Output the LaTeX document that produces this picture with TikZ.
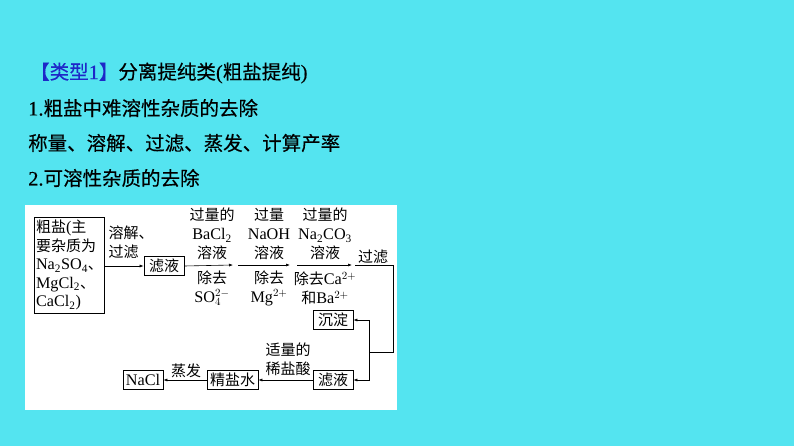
\documentclass[tikz,border=0pt]{standalone}
\usepackage{fontspec}
\setmainfont{Noto Sans CJK SC}
\newfontfamily\tnr[Scale=1.08]{Liberation Serif}
\newfontfamily\headfont[FakeBold=0.3]{Noto Sans CJK SC}
\newfontfamily\headtnr[FakeBold=0.3,Scale=1.05]{Liberation Serif}
\usetikzlibrary{arrows.meta}
\definecolor{bgcyan}{RGB}{84,228,240}
\definecolor{typeblue}{RGB}{30,40,200}
\newcommand{\en}[1]{{\tnr #1}}
\newcommand{\hen}[1]{{\headtnr #1}}
\tikzset{
  heading/.style={anchor=west, inner sep=0pt, font=\headfont\fontsize{19.5}{23}\selectfont},
  small/.style={inner sep=0pt, align=center, font=\fontsize{15}{19}\selectfont},
  box/.style={draw, line width=0.7pt, inner sep=1pt, minimum width=40pt, minimum height=19pt, font=\fontsize{15}{19}\selectfont},
  flow/.style={line width=0.6pt, -{Latex[length=4pt,width=3pt]}},
  wire/.style={line width=0.6pt}
}
\begin{document}
\begin{tikzpicture}[x=1pt,y=-1pt]
  % background and panel
  \fill[bgcyan] (0,0) rectangle (794,446);
  \useasboundingbox (0,0) rectangle (794,446);
  \fill[white] (25,205) rectangle (397,410);

  % headings
  \node[heading] (title) at (30,73) {\textcolor{typeblue}{【类型\hen{1}】}分离提纯类\hen{(}粗盐提纯\hen{)}};
  \node[heading] (line1) at (28,108) {\hen{1.}粗盐中难溶性杂质的去除};
  \node[heading] (line2) at (28,143) {称量、溶解、过滤、蒸发、计算产率};
  \node[heading] (line3) at (28,178) {\hen{2.}可溶性杂质的去除};

  % boxes
  \node[box, minimum width=67pt, minimum height=96pt, inner xsep=1.5pt, align=left, font=\fontsize{15}{18.5}\selectfont] (crude) at (69.5,265)
    {粗盐\en{(}主\\要杂质为\\\en{Na\textsubscript{2}SO\textsubscript{4}}、\\\en{MgCl\textsubscript{2}}、\\\en{CaCl\textsubscript{2})}};
  \node[box] (filt1) at (164,266) {滤液};
  \node[box] (sed) at (333,320) {沉淀};
  \node[box] (filt2) at (333,380) {滤液};
  \node[box, minimum width=51pt] (brine) at (232.5,380) {精盐水};
  \node[box] (nacl) at (143,380) {\en{NaCl}};

  % free ends on the main line
  \coordinate (e1) at (233,265);
  \coordinate (s2) at (238,265);
  \coordinate (e2) at (290,265);
  \coordinate (s3) at (297,265);
  \coordinate (e3) at (352,265);
  \coordinate (s4) at (355,265);
  \coordinate (turn) at (393,265);
  \coordinate (split) at (369,352);

  % labels
  \node[small, align=left] (dissolve) at (131,242) {溶解、\\过滤};
  \node[small] (add1) at (212,234) {过量的\\\en{BaCl\textsubscript{2}}\\溶液};
  \node[small] (rem1) at (212,288) {除去\\\en{SO}$_4^{2-}$};
  \node[small] (add2) at (269,234) {过量\\\en{NaOH}\\溶液};
  \node[small] (rem2) at (269,288) {除去\\\en{Mg}$^{2+}$};
  \node[small] (add3) at (325,234) {过量的\\\en{Na\textsubscript{2}CO\textsubscript{3}}\\溶液};
  \node[small] (rem3) at (325,288) {除去\en{Ca}$^{2+}$\\和\en{Ba}$^{2+}$};
  \node[small] (filter) at (373,257) {过滤};
  \node[small] (acid) at (288,359) {适量的\\稀盐酸};
  \node[small] (evap) at (186,371) {蒸发};

  % connectors
  \draw[flow] (crude.east |- filt1) -- (filt1.west);
  \draw[flow] (filt1.east) -- (e1);
  \draw[flow] (s2) -- (e2);
  \draw[flow] (s3) -- (e3);
  \draw[wire] (s4) -- (turn) |- (split);
  \draw[flow] (split) |- (sed.east);
  \draw[flow] (split) |- (filt2.east);
  \draw[flow] (filt2.west) -- (brine.east);
  \draw[flow] (brine.west) -- (nacl.east);
\end{tikzpicture}
\end{document}
